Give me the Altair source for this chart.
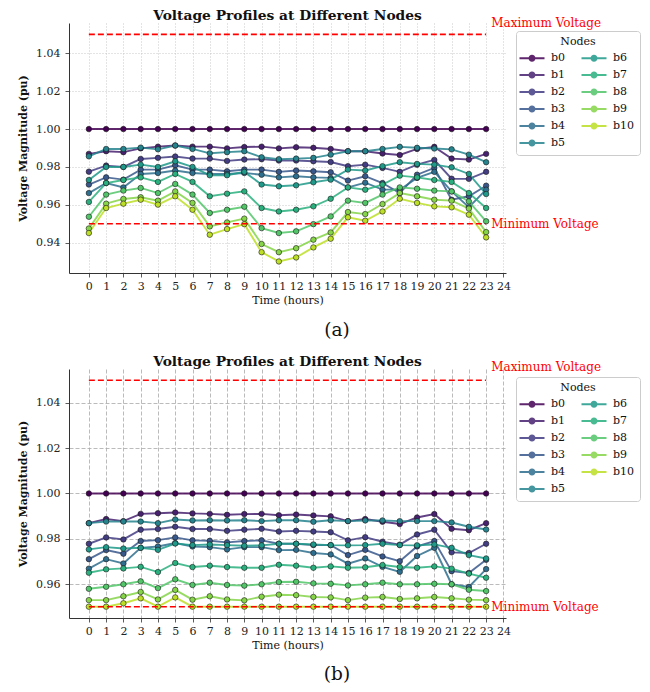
import altair as alt
import pandas as pd

FONT = "DejaVu Serif"

HOURS = list(range(24))
NODES = ["b0", "b1", "b2", "b3", "b4", "b5", "b6", "b7", "b8", "b9", "b10"]
COLORS = ["#440154", "#47216f", "#433d84", "#38588c", "#2e6e8e", "#25848e",
          "#1f9a8a", "#2ab07f", "#52c569", "#86d549", "#bddf26"]

X_TICKS = list(range(25))
A_Y_TICKS = [0.94, 0.96, 0.98, 1.00, 1.02, 1.04]
B_Y_TICKS = [0.96, 0.98, 1.00, 1.02, 1.04]
V_MAX = 1.05
V_MIN = 0.95
TITLE = "Voltage Profiles at Different Nodes"

# ---- panel (a): voltages (pu) per node, hours 0..23 ----
A_B0 = [1.000, 1.000, 1.000, 1.000, 1.000, 1.000, 1.000, 1.000, 1.000, 1.000, 1.000, 1.000,
        1.000, 1.000, 1.000, 1.000, 1.000, 1.000, 1.000, 1.000, 1.000, 1.000, 1.000, 1.000]
A_B1 = [0.9869, 0.9883, 0.9878, 0.9898, 0.9907, 0.9913, 0.9907, 0.9907, 0.9898, 0.9905, 0.9907, 0.9898,
        0.9904, 0.9901, 0.9895, 0.9883, 0.9883, 0.9871, 0.9863, 0.9895, 0.9906, 0.9844, 0.9839, 0.9869]
A_B2 = [0.9775, 0.9807, 0.9800, 0.9842, 0.9848, 0.9855, 0.9844, 0.9844, 0.9832, 0.9839, 0.9841, 0.9834,
        0.9834, 0.9830, 0.9826, 0.9804, 0.9812, 0.9795, 0.9774, 0.9812, 0.9837, 0.9738, 0.9737, 0.9774]
A_B3 = [0.9707, 0.9745, 0.9733, 0.9786, 0.9786, 0.9809, 0.9786, 0.9786, 0.9777, 0.9786, 0.9786, 0.9774,
        0.9781, 0.9777, 0.9772, 0.9728, 0.9751, 0.9715, 0.9662, 0.9759, 0.9795, 0.9627, 0.9645, 0.9701]
A_B4 = [0.9662, 0.9715, 0.9692, 0.9763, 0.9768, 0.9781, 0.9768, 0.9763, 0.9763, 0.9768, 0.9759, 0.9745,
        0.9751, 0.9745, 0.9742, 0.9692, 0.9717, 0.9680, 0.9680, 0.9742, 0.9774, 0.9671, 0.9587, 0.9680]
A_B5 = [0.9856, 0.9895, 0.9895, 0.9902, 0.9893, 0.9913, 0.9895, 0.9872, 0.9878, 0.9883, 0.9851, 0.9841,
        0.9844, 0.9848, 0.9865, 0.9883, 0.9883, 0.9895, 0.9906, 0.9901, 0.9897, 0.9893, 0.9865, 0.9825]
A_B6 = [0.9731, 0.9800, 0.9800, 0.9812, 0.9800, 0.9830, 0.9800, 0.9756, 0.9756, 0.9774, 0.9707, 0.9698,
        0.9703, 0.9719, 0.9733, 0.9786, 0.9781, 0.9804, 0.9825, 0.9816, 0.9812, 0.9798, 0.9763, 0.9657]
A_B7 = [0.9615, 0.9715, 0.9731, 0.9745, 0.9721, 0.9763, 0.9721, 0.9645, 0.9659, 0.9671, 0.9583, 0.9565,
        0.9574, 0.9592, 0.9632, 0.9692, 0.9680, 0.9707, 0.9754, 0.9745, 0.9731, 0.9721, 0.9662, 0.9583]
A_B8 = [0.9537, 0.9654, 0.9675, 0.9689, 0.9662, 0.9710, 0.9654, 0.9557, 0.9574, 0.9590, 0.9477, 0.9451,
        0.9460, 0.9498, 0.9539, 0.9622, 0.9610, 0.9654, 0.9692, 0.9685, 0.9675, 0.9671, 0.9618, 0.9513]
A_B9 = [0.9475, 0.9606, 0.9631, 0.9640, 0.9622, 0.9671, 0.9610, 0.9486, 0.9507, 0.9527, 0.9393, 0.9350,
        0.9371, 0.9416, 0.9454, 0.9562, 0.9551, 0.9604, 0.9662, 0.9645, 0.9627, 0.9622, 0.9580, 0.9456]
A_B10 = [0.9451, 0.9583, 0.9606, 0.9627, 0.9601, 0.9645, 0.9574, 0.9442, 0.9472, 0.9498, 0.9350, 0.9301,
         0.9322, 0.9375, 0.9421, 0.9534, 0.9516, 0.9565, 0.9632, 0.9610, 0.9592, 0.9587, 0.9548, 0.9428]

# ---- panel (b) ----
B_B0 = [1.000, 1.000, 1.000, 1.000, 1.000, 1.000, 1.000, 1.000, 1.000, 1.000, 1.000, 1.000,
        1.000, 1.000, 1.000, 1.000, 1.000, 1.000, 1.000, 1.000, 1.000, 1.000, 1.000, 1.000]
B_B1 = [0.9869, 0.9887, 0.9878, 0.9910, 0.9913, 0.9916, 0.9912, 0.9910, 0.9906, 0.9909, 0.9910, 0.9904,
        0.9907, 0.9903, 0.9899, 0.9878, 0.9887, 0.9875, 0.9865, 0.9894, 0.9909, 0.9844, 0.9838, 0.9869]
B_B2 = [0.9778, 0.9806, 0.9797, 0.9840, 0.9843, 0.9853, 0.9843, 0.9843, 0.9835, 0.9840, 0.9844, 0.9832,
        0.9835, 0.9832, 0.9829, 0.9793, 0.9807, 0.9787, 0.9774, 0.9819, 0.9840, 0.9740, 0.9737, 0.9778]
B_B3 = [0.9710, 0.9750, 0.9734, 0.9790, 0.9794, 0.9806, 0.9793, 0.9791, 0.9784, 0.9790, 0.9793, 0.9778,
        0.9778, 0.9772, 0.9772, 0.9728, 0.9751, 0.9722, 0.9701, 0.9766, 0.9790, 0.9657, 0.9649, 0.9707]
B_B4 = [0.9668, 0.9710, 0.9691, 0.9760, 0.9766, 0.9781, 0.9766, 0.9763, 0.9753, 0.9763, 0.9763, 0.9750,
        0.9751, 0.9737, 0.9731, 0.9690, 0.9713, 0.9676, 0.9654, 0.9724, 0.9760, 0.9599, 0.9587, 0.9666]
B_B5 = [0.9869, 0.9876, 0.9876, 0.9876, 0.9869, 0.9885, 0.9881, 0.9882, 0.9881, 0.9882, 0.9878, 0.9882,
        0.9882, 0.9875, 0.9882, 0.9878, 0.9881, 0.9881, 0.9878, 0.9878, 0.9878, 0.9872, 0.9853, 0.9841]
B_B6 = [0.9753, 0.9763, 0.9757, 0.9760, 0.9751, 0.9779, 0.9772, 0.9775, 0.9772, 0.9769, 0.9771, 0.9778,
        0.9778, 0.9775, 0.9772, 0.9771, 0.9772, 0.9778, 0.9772, 0.9771, 0.9775, 0.9760, 0.9728, 0.9713]
B_B7 = [0.9650, 0.9665, 0.9669, 0.9676, 0.9653, 0.9693, 0.9675, 0.9681, 0.9675, 0.9672, 0.9672, 0.9685,
        0.9681, 0.9672, 0.9678, 0.9672, 0.9674, 0.9684, 0.9675, 0.9672, 0.9678, 0.9668, 0.9646, 0.9628]
B_B8 = [0.9579, 0.9588, 0.9599, 0.9612, 0.9582, 0.9621, 0.9596, 0.9606, 0.9596, 0.9593, 0.9599, 0.9609,
        0.9610, 0.9603, 0.9601, 0.9594, 0.9599, 0.9606, 0.9599, 0.9599, 0.9601, 0.9599, 0.9575, 0.9569]
B_B9 = [0.9529, 0.9529, 0.9546, 0.9565, 0.9532, 0.9574, 0.9531, 0.9546, 0.9532, 0.9528, 0.9544, 0.9553,
        0.9551, 0.9543, 0.9541, 0.9529, 0.9540, 0.9543, 0.9534, 0.9537, 0.9543, 0.9537, 0.9531, 0.9529]
B_B10 = [0.9500, 0.9500, 0.9515, 0.9537, 0.9500, 0.9541, 0.9500, 0.9500, 0.9500, 0.9500, 0.9500, 0.9500,
         0.9500, 0.9500, 0.9500, 0.9500, 0.9500, 0.9500, 0.9500, 0.9500, 0.9500, 0.9500, 0.9500, 0.9500]

A_SERIES = [A_B0, A_B1, A_B2, A_B3, A_B4, A_B5, A_B6, A_B7, A_B8, A_B9, A_B10]
B_SERIES = [B_B0, B_B1, B_B2, B_B3, B_B4, B_B5, B_B6, B_B7, B_B8, B_B9, B_B10]

W = 437
# legend glyph: a short line with a small circle, in symbol units
SYMBOL_PATH = ("M-1.786,0L1.786,0M0.357,0A0.357,0.357,0,1,1,-0.357,0"
               "A0.357,0.357,0,1,1,0.357,0Z")


def long_df(series):
    rows = []
    for k, (node, vals) in enumerate(zip(NODES, series)):
        for h, v in zip(HOURS, vals):
            rows.append({"hour": h, "v": v, "node": node, "k": k})
    return pd.DataFrame(rows)


def panel(series, ydomain, yticks, grid_dash, grid_color, tag, h, tag_dy):
    df = long_df(series)
    color = alt.Color(
        "node:N",
        scale=alt.Scale(domain=NODES, range=COLORS),
        legend=alt.Legend(
            title="Nodes", orient="none", legendX=447, legendY=8, columns=2,
            symbolType=SYMBOL_PATH, symbolSize=196, symbolStrokeWidth=2,
            symbolOffset=3,
            labelFont=FONT, labelFontSize=11, labelColor="#111",
            labelOffset=11,
            titleFont=FONT, titleFontSize=11, titleFontWeight="normal",
            titleColor="#111", titleAnchor="middle", titlePadding=3,
            padding=5, strokeColor="#cccccc", fillColor="white",
            cornerRadius=3, rowPadding=2, columnPadding=11,
        ),
    )
    x = alt.X("hour:Q",
              scale=alt.Scale(domain=[-1.15, 24.15], nice=False, zero=False),
              axis=alt.Axis(values=X_TICKS, format="d", title="Time (hours)",
                            labelOverlap=False, labelFont=FONT,
                            titleFont=FONT,
                            gridDash=grid_dash, gridColor=grid_color,
                            titleFontWeight="normal", labelPadding=3,
                            titlePadding=3))
    y = alt.Y("v:Q",
              scale=alt.Scale(domain=ydomain, nice=False, zero=False),
              axis=alt.Axis(values=yticks, format=".2f",
                            title="Voltage Magnitude (pu)",
                            labelOverlap=False,
                            labelFont=FONT, titleFont=FONT,
                            gridDash=grid_dash, gridColor=grid_color,
                            titleFontWeight="bold", labelPadding=5,
                            titlePadding=7))

    lines = alt.Chart(df).mark_line(strokeWidth=1.9, opacity=0.85).encode(
        x=x, y=y, color=color, detail="node:N", order="hour:Q")
    points = alt.Chart(df).mark_point(
        filled=True, size=30, stroke="#1a1a1a", strokeWidth=0.6, opacity=1
    ).encode(x=x, y=y, color=color)

    lim = pd.DataFrame({"hour": [0, 0], "hour2": [23, 23], "v": [V_MAX, V_MIN]})
    rules = alt.Chart(lim).mark_rule(color="red", strokeDash=[6, 3],
                                     strokeWidth=1.6).encode(
        x=x, x2="hour2:Q", y=y)

    lab = pd.DataFrame({"hour": [23.3, 23.3],
                        "v": [V_MAX + 0.0058, V_MIN],
                        "t": ["Maximum Voltage", "Minimum Voltage"]})
    labels = alt.Chart(lab).mark_text(align="left", baseline="middle",
                                      color="red", font=FONT,
                                      fontSize=12).encode(
        x=x, y=y, text="t:N")

    titledf = pd.DataFrame({"t": [TITLE]})
    titletext = alt.Chart(titledf).mark_text(
        font=FONT, fontSize=13.8, fontWeight="bold", color="#111",
        align="center", baseline="middle").encode(
        x=alt.value(W / 2), y=alt.value(-7.5), text="t:N")

    tagdf = pd.DataFrame({"t": [tag]})
    tagtext = alt.Chart(tagdf).mark_text(font=FONT, fontSize=18.5,
                                         color="#111", align="center",
                                         baseline="middle").encode(
        x=alt.value(268), y=alt.value(h + tag_dy), text="t:N")

    return alt.layer(lines, points, rules, labels, titletext,
                     tagtext).properties(width=W, height=h)


pa = panel(A_SERIES, [0.924, 1.056], A_Y_TICKS, [1, 2], "#bbbbbb", "(a)", 250, 57)
pb = panel(B_SERIES, [0.945, 1.055], B_Y_TICKS, [4, 2], "#aaaaaa", "(b)", 249, 56)

chart = alt.vconcat(pa, pb, spacing=96, bounds="flush").resolve_scale(
    color="independent").resolve_legend(color="independent").properties(
    padding={"left": 9, "top": 0, "right": 0, "bottom": 0}
).configure_view(stroke="transparent").configure_axis(
    labelFont=FONT, labelFontSize=11, labelColor="#222",
    titleFont=FONT, titleFontSize=11, titleColor="#111",
    domainColor="#333", domainWidth=1, tickColor="#333", tickSize=4,
    tickWidth=0.8, gridWidth=0.8, labelOverlap=False,
)

chart.save("out.html", embed_options={"renderer": "svg", "actions": False})
